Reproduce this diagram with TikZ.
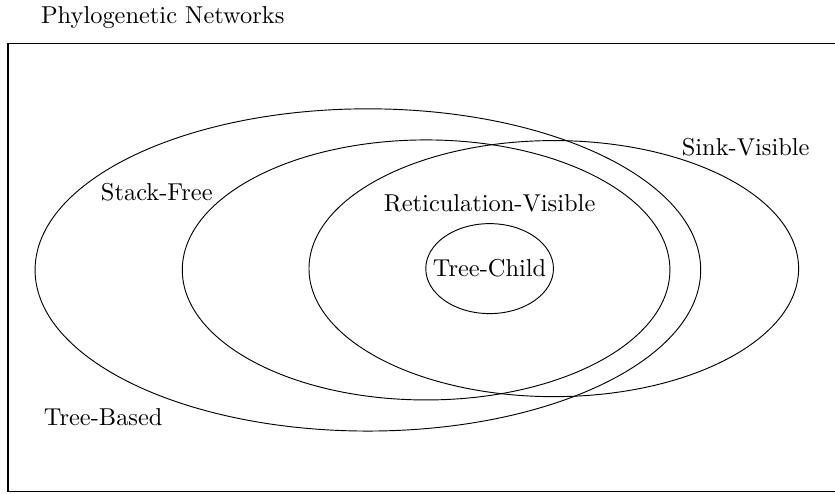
\documentclass[tikz,border=0pt]{standalone}
\usepackage{tikz}
\usetikzlibrary{positioning, shapes}

\begin{document}
\begin{tikzpicture}[font=\fontsize{10.5pt}{12.6pt}\selectfont]
  \tikzset{
    blank/.style={text centered, inner sep=0pt},
    set/.style={ellipse, draw=black, inner sep=0pt}
  }
  \useasboundingbox (0,0) rectangle (12.62,7.46);

  \draw[semithick] (0.12,0.03) rectangle (12.72,6.80);
  \node[blank] (title) at (2.46,7.19) {Phylogenetic Networks};

  \node[set, minimum width=10.06cm, minimum height=4.87cm] (tb) at (5.56,3.38) {};
  \node[set, minimum width=7.37cm, minimum height=3.93cm] (sf) at (6.44,3.38) {};
  \node[set, minimum width=7.40cm, minimum height=3.87cm] (sv) at (8.37,3.40) {};
  \node[set, minimum width=1.93cm, minimum height=1.36cm] (tc) at (7.40,3.40) {};

  \node[blank] (tblabel) at (1.56,1.16) {Tree-Based};
  \node[blank] (sflabel) at (2.37,4.56) {Stack-Free};
  \node[blank] (svlabel) at (11.27,5.24) {Sink-Visible};
  \node[blank] (rvlabel) at (7.40,4.38) {Reticulation-Visible};
  \node[blank] (tclabel) at (tc) {Tree-Child};

\end{tikzpicture}
\end{document}
